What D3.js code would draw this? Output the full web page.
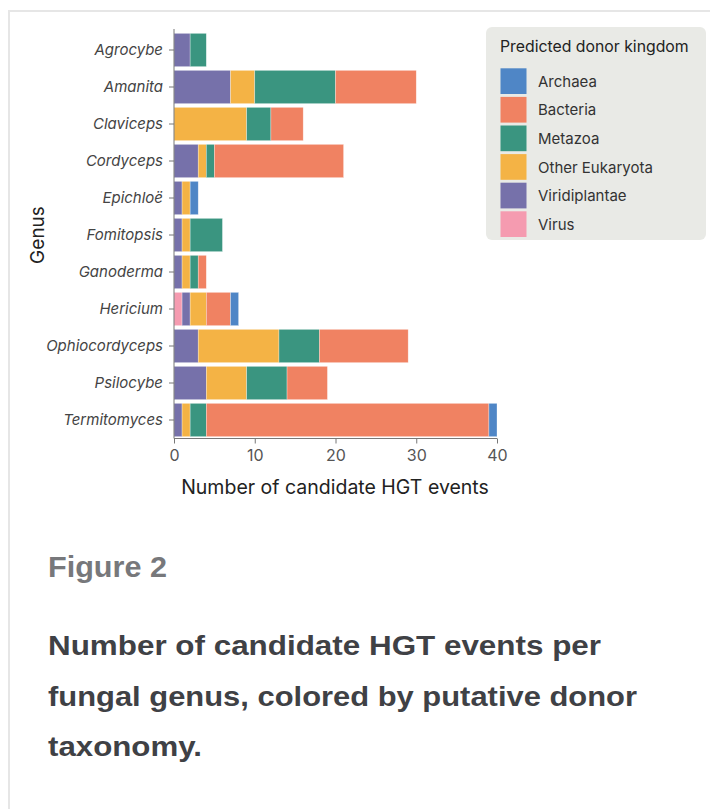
<!DOCTYPE html>
<html>
<head>
<meta charset="utf-8">
<script src="https://cdn.jsdelivr.net/npm/d3@7"></script>
<style>
  body { margin: 0; background: #fff; }
  svg { display: block; font-family: Inter, "Liberation Sans", Arial, sans-serif; }
</style>
</head>
<body>
<div id="chart"></div>
<script>
// data
var genera = ["Agrocybe","Amanita","Claviceps","Cordyceps","Epichloë","Fomitopsis",
              "Ganoderma","Hericium","Ophiocordyceps","Psilocybe","Termitomyces"];
var kingdoms = ["Archaea","Bacteria","Metazoa","Other Eukaryota","Viridiplantae","Virus"];
var virus         = [0,0,0,0,0,0,0,1,0,0,0];
var viridiplantae = [2,7,0,3,1,1,1,1,3,4,1];
var otherEuk      = [0,3,9,1,1,1,1,2,10,5,1];
var metazoa       = [2,10,3,1,0,4,1,0,5,5,2];
var bacteria      = [0,10,4,16,0,0,1,3,11,5,35];
var archaea       = [0,0,0,0,1,0,0,1,0,0,1];
var xTicks = [0,10,20,30,40];

var colors = {"Archaea":"#4f86c6","Bacteria":"#f08262","Metazoa":"#3a9580",
              "Other Eukaryota":"#f4b345","Viridiplantae":"#7671aa","Virus":"#f59bb0"};

// stacking order from the axis outwards
var stackOrder = ["Virus","Viridiplantae","Other Eukaryota","Metazoa","Bacteria","Archaea"];
var seriesByName = {"Virus":virus,"Viridiplantae":viridiplantae,"Other Eukaryota":otherEuk,
                    "Metazoa":metazoa,"Bacteria":bacteria,"Archaea":archaea};
var rows = genera.map(function(g,i){
  var r = {genus:g};
  stackOrder.forEach(function(k){ r[k] = seriesByName[k][i]; });
  return r;
});

var w = 710, h = 809;
var svg = d3.select("#chart").append("svg").attr("width",w).attr("height",h);

// card border
svg.append("path").attr("d","M9,809V11H710").attr("fill","none")
   .attr("stroke","#e6e6e6").attr("stroke-width",2);

var x = d3.scaleLinear().domain([0,40]).range([174,497]);
var y = d3.scaleBand().domain(genera).range([31.5,438.5]).paddingInner(0.1).paddingOuter(0.05);

var stacked = d3.stack().keys(stackOrder)(rows);

svg.append("g").selectAll("g").data(stacked).enter().append("g")
   .attr("fill",function(d){return colors[d.key];})
   .selectAll("rect").data(function(d){return d;}).enter().append("rect")
   .filter(function(d){return d[1]-d[0] > 0;})
   .attr("x",function(d){return x(d[0]);})
   .attr("y",function(d){return y(d.data.genus);})
   .attr("width",function(d){return x(d[1])-x(d[0]);})
   .attr("height",y.bandwidth())
   .attr("stroke","#fff").attr("stroke-opacity",0.5).attr("stroke-width",0.6);

// axes
var yaxis = d3.axisLeft(y).tickSize(5).tickPadding(6);
var gy = svg.append("g").attr("transform","translate(174,0)").call(yaxis);
gy.select(".domain").attr("d","M0,29V438.5").attr("stroke","#777");
gy.selectAll(".tick line").attr("stroke","#777");
gy.selectAll(".tick text").attr("font-size",15).attr("font-style","italic").attr("fill","#444")
  .attr("font-family","Inter, sans-serif");

var xaxis = d3.axisBottom(x).tickValues(xTicks).tickSize(5).tickPadding(6);
var gx = svg.append("g").attr("transform","translate(0,438.5)").call(xaxis);
gx.select(".domain").attr("d","M174,0H497").attr("stroke","#777");
gx.selectAll(".tick line").attr("stroke","#777");
gx.selectAll(".tick text").attr("font-size",16).attr("fill","#555").attr("font-family","Inter, sans-serif");

svg.append("text").attr("x",335).attr("y",494).attr("text-anchor","middle")
   .attr("font-size",19.5).attr("fill","#222").text("Number of candidate HGT events");
svg.append("text").attr("transform","translate(44,235) rotate(-90)").attr("text-anchor","middle")
   .attr("font-size",19).attr("fill","#222").text("Genus");

// legend
var lg = svg.append("g").attr("transform","translate(486,27)");
lg.append("rect").attr("width",220).attr("height",213).attr("rx",6).attr("fill","#e9eae6");
lg.append("text").attr("x",14).attr("y",25).attr("font-size",15.8).attr("fill","#222")
  .text("Predicted donor kingdom");
var li = lg.selectAll(".legenditem").data(kingdoms).enter().append("g").attr("class","legenditem")
  .attr("transform",function(d,i){return "translate(14.5,"+(41.3+i*28.6)+")";});
li.append("rect").attr("width",26).attr("height",25.7).attr("fill",function(d){return colors[d];});
li.append("text").attr("x",37.5).attr("y",18.6).attr("font-size",15).attr("fill","#333").text(function(d){return d;});

// caption
var capFont = "'Liberation Sans', Arial, sans-serif";
svg.append("text").attr("x",48).attr("y",577).attr("font-size",29.5).attr("font-weight","bold")
   .attr("font-family",capFont).attr("fill","#77787b")
   .attr("textLength",119).attr("lengthAdjust","spacingAndGlyphs").text("Figure 2");
var cap = ["Number of candidate HGT events per","fungal genus, colored by putative donor","taxonomy."];
var capWidths = [553,589,154];
svg.selectAll(".cap").data(cap).enter().append("text").attr("class","cap")
   .attr("x",48).attr("y",function(d,i){return 655+i*50.5;})
   .attr("font-size",28).attr("font-weight","bold").attr("font-family",capFont).attr("fill","#3f4145")
   .attr("textLength",function(d,i){return capWidths[i];}).attr("lengthAdjust","spacingAndGlyphs")
   .text(function(d){return d;});
</script>
</body>
</html>
